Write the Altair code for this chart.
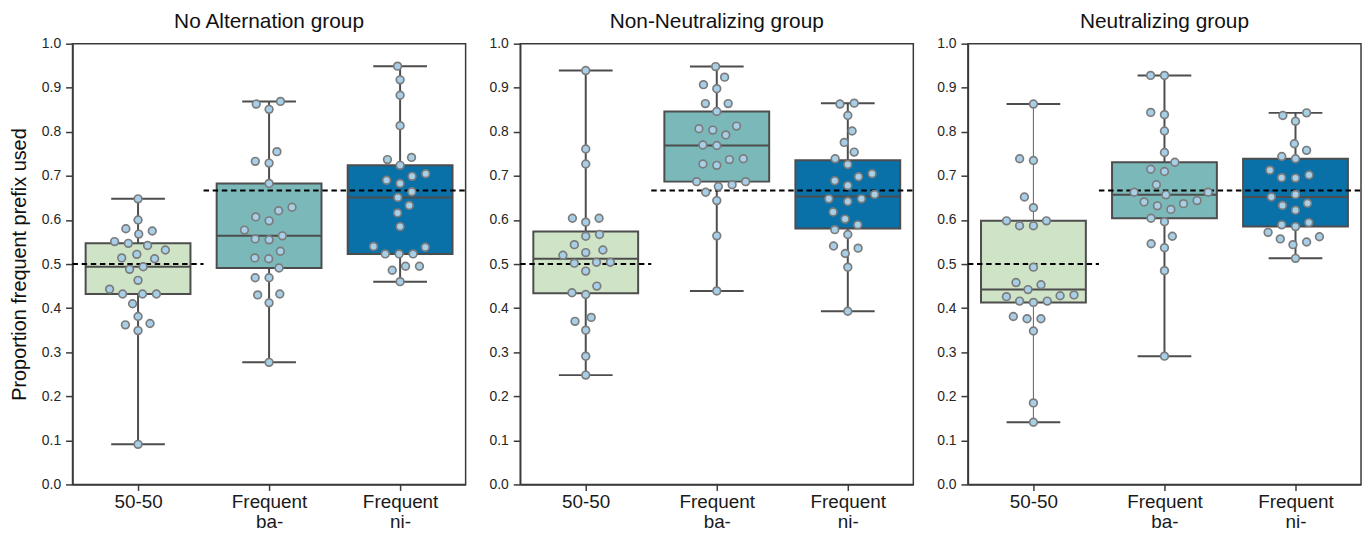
import json
import math

import altair as alt
import pandas as pd

# ---------------- data ----------------
CATEGORIES = ["50-50", "Frequent ba-", "Frequent ni-"]
PANEL_TITLES = ["No Alternation group", "Non-Neutralizing group", "Neutralizing group"]
Y_TICKS = [0.0, 0.1, 0.2, 0.3, 0.4, 0.5, 0.6, 0.7, 0.8, 0.9, 1.0]
Y_TITLE = "Proportion frequent prefix used"

# No Alternation group
NOALT_5050 = [0.648, 0.600, 0.580, 0.575, 0.568, 0.551, 0.547, 0.542, 0.532, 0.522,
              0.514, 0.512, 0.494, 0.488, 0.463, 0.443, 0.432, 0.432, 0.432, 0.410,
              0.381, 0.365, 0.362, 0.349, 0.091]
NOALT_BA = [0.869, 0.863, 0.851, 0.755, 0.733, 0.729, 0.683, 0.629, 0.621, 0.607,
            0.598, 0.577, 0.564, 0.557, 0.555, 0.529, 0.514, 0.512, 0.491, 0.469,
            0.469, 0.432, 0.430, 0.412, 0.277]
NOALT_NI = [0.949, 0.918, 0.883, 0.814, 0.742, 0.737, 0.724, 0.705, 0.699, 0.690,
            0.683, 0.664, 0.651, 0.633, 0.616, 0.585, 0.540, 0.538, 0.523, 0.523,
            0.523, 0.495, 0.495, 0.486, 0.460]

# Non-Neutralizing group
NONNEU_5050 = [0.939, 0.761, 0.727, 0.604, 0.604, 0.595, 0.567, 0.563, 0.544, 0.532,
               0.526, 0.520, 0.504, 0.504, 0.502, 0.484, 0.450, 0.435, 0.431, 0.379,
               0.370, 0.350, 0.291, 0.248]
NONNEU_BA = [0.948, 0.924, 0.907, 0.898, 0.864, 0.864, 0.846, 0.813, 0.807, 0.804,
             0.793, 0.770, 0.769, 0.739, 0.737, 0.727, 0.724, 0.687, 0.687, 0.680,
             0.676, 0.663, 0.644, 0.564, 0.439]
NONNEU_NI = [0.865, 0.863, 0.837, 0.802, 0.776, 0.754, 0.739, 0.726, 0.705, 0.698,
             0.689, 0.678, 0.658, 0.648, 0.648, 0.642, 0.618, 0.602, 0.589, 0.578,
             0.567, 0.541, 0.536, 0.524, 0.493, 0.393]

# Neutralizing group
NEU_5050 = [0.863, 0.739, 0.735, 0.652, 0.628, 0.598, 0.598, 0.587, 0.587, 0.493,
            0.458, 0.453, 0.442, 0.430, 0.428, 0.426, 0.416, 0.416, 0.413, 0.381,
            0.376, 0.376, 0.348, 0.185, 0.141]
NEU_BA = [0.928, 0.928, 0.844, 0.839, 0.802, 0.753, 0.731, 0.715, 0.710, 0.680,
          0.663, 0.663, 0.657, 0.644, 0.641, 0.637, 0.632, 0.624, 0.604, 0.596,
          0.563, 0.546, 0.537, 0.485, 0.291]
NEU_NI = [0.843, 0.837, 0.824, 0.773, 0.758, 0.744, 0.739, 0.713, 0.702, 0.696,
          0.695, 0.658, 0.652, 0.638, 0.633, 0.622, 0.594, 0.589, 0.585, 0.572,
          0.562, 0.557, 0.550, 0.544, 0.513]

PANEL_SERIES = [
    [NOALT_5050, NOALT_BA, NOALT_NI],
    [NONNEU_5050, NONNEU_BA, NONNEU_NI],
    [NEU_5050, NEU_BA, NEU_NI],
]

# chance-level reference lines (value, from category position, to category position)
REF_VALUES = [0.5, 2.0 / 3.0]
REF_START = [-0.5, 0.5]
REF_END = [0.5, 2.5]

# ---------------- style ----------------
BOX_COLORS = ["#cfe3c6", "#7bb8b9", "#0a71a8"]
POINT_FILL = "#a7d0e8"
POINT_STROKE = "#7c7c7c"
LINE_GREY = "#4d4d4d"
AXIS_GREY = "#3a3a3a"
FONT = "Liberation Sans"
PANEL_W = 396
PANEL_H = 444
SWARM_D = 14.0  # px between swarm point centres
THIN_WHISKER = {2: "50-50"}  # panel index -> category drawn with a thin whisker


def swarm_offsets(vals, diameter=SWARM_D):
    """Beeswarm layout (seaborn-like): returns pixel offsets from the centre."""
    px_per_val = PANEL_H
    order = sorted(range(len(vals)), key=lambda k: vals[k])
    placed = []
    offs = [0.0] * len(vals)
    for i in order:
        y = vals[i] * px_per_val
        neigh = [(px, py) for px, py in placed if abs(py - y) < diameter]
        lefts, rights = [], []
        for px, py in neigh:
            dx = math.sqrt(max(diameter ** 2 - (py - y) ** 2, 0.0))
            lefts.append(px - dx)
            rights.append(px + dx)
        cands = [0.0] + lefts + rights
        cands.sort(key=abs)
        chosen = cands[-1]
        for c in cands:
            if all((c - px) ** 2 + (y - py) ** 2 >= diameter ** 2 - 1e-6 for px, py in neigh):
                chosen = c
                break
        offs[i] = chosen
        placed.append((chosen, y))
    return offs


X_SCALE = alt.Scale(domain=[-0.5, 2.5], nice=False, zero=False)
Y_SCALE = alt.Scale(domain=[0, 1], nice=False, zero=False)
LABEL_EXPR = "split(" + json.dumps(CATEGORIES) + "[datum.value], ' ')"

X_AXIS = alt.Axis(values=[0, 1, 2], labelExpr=LABEL_EXPR, labelFontSize=19,
                  labelPadding=2, labelLineHeight=20, labelColor="#1a1a1a",
                  labelFlush=False, labelOverlap=False, title=None, grid=False,
                  tickSize=6)


def panel(pi, title, series):
    first = pi == 0
    rows = []
    for ci, vals in enumerate(series):
        offs = swarm_offsets(vals)
        for v, o in zip(vals, offs):
            rows.append({"cat": CATEGORIES[ci], "idx": ci, "v": v,
                         "xs": ci + o / (PANEL_W / 3.0)})
    df = pd.DataFrame(rows)
    ref_df = pd.DataFrame({"value": REF_VALUES, "start": REF_START, "end": REF_END})

    y_axis = alt.Axis(values=Y_TICKS, format=".1f", labelFontSize=14, labelPadding=5,
                      labelColor="#262626", grid=False, tickSize=7,
                      title=Y_TITLE if first else None, titleFontSize=20,
                      titleFontWeight="normal", titlePadding=12, titleColor="#111111")

    def X(f):
        return alt.X(f, scale=X_SCALE, axis=X_AXIS)

    def Y(f):
        return alt.Y(f, scale=Y_SCALE, axis=y_axis)

    base = alt.Chart(df)
    stats = base.transform_aggregate(
        q1="q1(v)", q3="q3(v)", med="median(v)", lo="min(v)", hi="max(v)",
        groupby=["cat", "idx"],
    ).transform_calculate(
        x0="datum.idx - 0.4", x1="datum.idx + 0.4",
        c0="datum.idx - 0.205", c1="datum.idx + 0.205",
    )

    thin_cat = THIN_WHISKER.get(pi, "")
    whisker = stats.mark_rule().encode(
        x=X("idx:Q"), y=Y("lo:Q"), y2="hi:Q",
        strokeWidth=alt.condition(alt.datum.cat == thin_cat, alt.value(1.1), alt.value(2)),
        color=alt.condition(alt.datum.cat == thin_cat, alt.value("#6e6e6e"),
                            alt.value(LINE_GREY)))
    cap_lo = stats.mark_rule(color=LINE_GREY, strokeWidth=2).encode(
        x=X("c0:Q"), x2="c1:Q", y=Y("lo:Q"))
    cap_hi = stats.mark_rule(color=LINE_GREY, strokeWidth=2).encode(
        x=X("c0:Q"), x2="c1:Q", y=Y("hi:Q"))
    box = stats.mark_rect(stroke=LINE_GREY, strokeWidth=2, opacity=1).encode(
        x=X("x0:Q"), x2="x1:Q", y=Y("q1:Q"), y2="q3:Q",
        color=alt.Color("cat:N", scale=alt.Scale(domain=CATEGORIES, range=BOX_COLORS),
                        legend=None))
    median = stats.mark_rule(color=LINE_GREY, strokeWidth=2).encode(
        x=X("x0:Q"), x2="x1:Q", y=Y("med:Q"))
    refs = alt.Chart(ref_df).mark_rule(color="black", strokeWidth=2,
                                       strokeDash=[5.5, 3.7]).encode(
        x=X("start:Q"), x2="end:Q", y=Y("value:Q"))
    pts = base.mark_point(shape="circle", filled=True, fill=POINT_FILL,
                          stroke=POINT_STROKE, strokeWidth=1.7, size=60,
                          opacity=1).encode(x=X("xs:Q"), y=Y("v:Q"))

    return alt.layer(whisker, cap_lo, cap_hi, box, median, refs, pts).properties(
        width=PANEL_W, height=PANEL_H,
        title=alt.TitleParams(text=title, fontSize=21, font=FONT, fontWeight="normal",
                              color="#111111", offset=5),
    )


charts = [panel(i, t, s) for i, (t, s) in enumerate(zip(PANEL_TITLES, PANEL_SERIES))]

chart = alt.hconcat(*charts, spacing=20).properties(
    padding={"left": 0, "top": 0, "right": 0, "bottom": 0}
).configure_axis(
    labelFont=FONT, titleFont=FONT, domainColor=AXIS_GREY, tickColor=AXIS_GREY,
    domainWidth=1.5, tickWidth=1.5,
).configure_view(stroke=AXIS_GREY, strokeWidth=1.5)

chart.save("out.html", embed_options={"renderer": "svg", "actions": False})
